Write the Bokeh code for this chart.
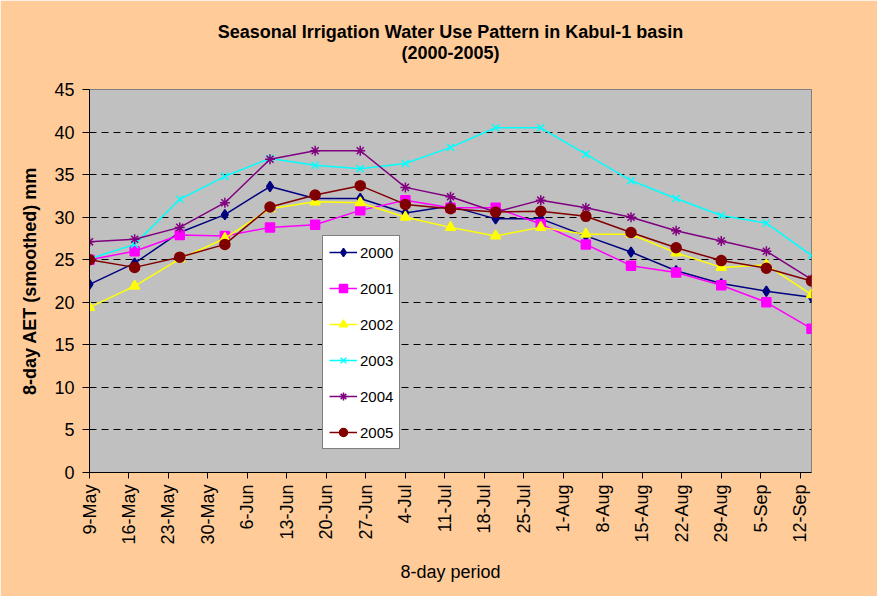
import pandas as pd
from bokeh.plotting import figure
from bokeh.models import Range1d, FixedTicker, Title, Legend, LegendItem
from bokeh.embed import file_html
from bokeh.resources import INLINE
import math

# ---- data ----
dates = ["2005-05-09", "2005-05-17", "2005-05-25", "2005-06-02", "2005-06-10",
         "2005-06-18", "2005-06-26", "2005-07-04", "2005-07-12", "2005-07-20",
         "2005-07-28", "2005-08-05", "2005-08-13", "2005-08-21", "2005-08-29",
         "2005-09-06", "2005-09-14"]
tick_labels = ["9-May", "16-May", "23-May", "30-May", "6-Jun", "13-Jun", "20-Jun",
               "27-Jun", "4-Jul", "11-Jul", "18-Jul", "25-Jul", "1-Aug", "8-Aug",
               "15-Aug", "22-Aug", "29-Aug", "5-Sep", "12-Sep"]
y2000 = [22.1, 24.6, 28.2, 30.3, 33.6, 32.2, 32.2, 30.5, 31.3, 29.8, 29.8, 27.8, 25.9, 23.7, 22.2, 21.3, 20.6]
y2001 = [25.0, 26.0, 27.9, 27.8, 28.8, 29.1, 30.8, 32.0, 31.1, 31.1, 29.2, 26.8, 24.3, 23.5, 22.0, 20.0, 16.9]
y2002 = [19.4, 21.9, 25.1, 27.5, 31.0, 31.8, 31.7, 30.0, 28.8, 27.8, 28.8, 28.0, 28.0, 25.8, 24.1, 24.4, 20.9]
y2003 = [25.1, 26.8, 32.1, 34.8, 36.9, 36.1, 35.7, 36.3, 38.2, 40.5, 40.5, 37.4, 34.3, 32.2, 30.2, 29.3, 25.5]
y2004 = [27.1, 27.4, 28.8, 31.7, 36.8, 37.8, 37.8, 33.5, 32.4, 30.6, 32.0, 31.1, 30.0, 28.4, 27.2, 26.0, 22.7]
y2005 = [25.0, 24.1, 25.3, 26.8, 31.2, 32.6, 33.7, 31.5, 31.0, 30.6, 30.7, 30.1, 28.2, 26.4, 24.9, 24.0, 22.5]
years = ["2000", "2001", "2002", "2003", "2004", "2005"]
values = [y2000, y2001, y2002, y2003, y2004, y2005]
colors = ["#000080", "#FF00FF", "#FFFF00", "#00FFFF", "#800080", "#800000"]
markers = ["diamond", "square", "triangle", "x", "asterisk", "circle"]
msizes = [10, 9, 10, 10, 10, 10]

# day offsets from first date
d = pd.to_datetime(dates)
start = d[0]
xs = [(t - start).days for t in d]
tick_pos = [(pd.to_datetime(lbl + "-2005", format="%d-%b-%Y") - start).days for lbl in tick_labels]

FONT = "Liberation Sans"
BG = "#FFCC99"

p = figure(width=877, height=596, frame_width=722, frame_height=383,
           output_backend="svg", toolbar_location=None, title=None,
           x_range=Range1d(0, xs[-1]), y_range=Range1d(0, 45),
           min_border_left=89, min_border_top=89, min_border_right=66, min_border_bottom=124)
p.background_fill_color = "#C0C0C0"
p.border_fill_color = BG
p.outline_line_color = "#808080"

p.add_layout(Title(text="(2000-2005)", align="center", text_font=FONT, text_font_size="18px",
                   text_font_style="bold", text_color="black", standoff=54), "above")
p.add_layout(Title(text="Seasonal Irrigation Water Use Pattern in Kabul-1 basin", align="center",
                   text_font=FONT, text_font_size="18px", text_font_style="bold",
                   text_color="black", standoff=-56), "above")

items = []
for yr, vals, c, m, s in zip(years, values, colors, markers, msizes):
    r1 = p.line(xs, vals, line_color=c, line_width=1.5)
    r2 = p.scatter(xs, vals, marker=m, size=s, fill_color=c, line_color=c, line_width=1.5)
    items.append(LegendItem(label=yr, renderers=[r1, r2]))

leg = Legend(items=items, location=(233, 23), background_fill_color="white",
             background_fill_alpha=1.0, border_line_color="black", border_line_width=1,
             label_text_font=FONT, label_text_font_size="15px", label_text_color="black",
             glyph_width=28, glyph_height=20, label_height=20, spacing=16,
             padding=6, label_standoff=3, margin=0)
p.add_layout(leg, "center")

# axes
p.xaxis.ticker = FixedTicker(ticks=tick_pos)
p.xaxis.major_label_overrides = {tp: lbl for tp, lbl in zip(tick_pos, tick_labels)}
p.xaxis.major_label_orientation = math.pi / 2
p.xaxis.minor_tick_line_color = None
p.xaxis.major_tick_out = 6
p.xaxis.major_tick_in = 0
p.xaxis.major_label_standoff = 6
p.xaxis.axis_label = "8-day period"
p.xaxis.axis_label_text_font_style = "normal"
p.xaxis.axis_label_text_font_size = "18px"
p.xaxis.axis_label_standoff = 14

p.yaxis.ticker = FixedTicker(ticks=list(range(0, 46, 5)))
p.yaxis.minor_tick_line_color = None
p.yaxis.major_tick_out = 7
p.yaxis.major_tick_in = 0
p.yaxis.major_label_standoff = 8
p.yaxis.axis_label = "8-day AET (smoothed) mm"
p.yaxis.axis_label_text_font_style = "bold"
p.yaxis.axis_label_text_font_size = "18px"
p.yaxis.axis_label_standoff = 11

for ax in (p.xaxis, p.yaxis):
    ax.major_label_text_font = FONT
    ax.major_label_text_font_size = "18px"
    ax.major_label_text_color = "black"
    ax.axis_label_text_font = FONT
    ax.axis_label_text_color = "black"
    ax.axis_line_color = "black"
    ax.major_tick_line_color = "black"

p.xgrid.grid_line_color = None
p.ygrid.grid_line_color = "black"
p.ygrid.grid_line_dash = "7 5"
p.ygrid.grid_line_width = 1

open("out.html", "w").write(file_html(p, INLINE))
